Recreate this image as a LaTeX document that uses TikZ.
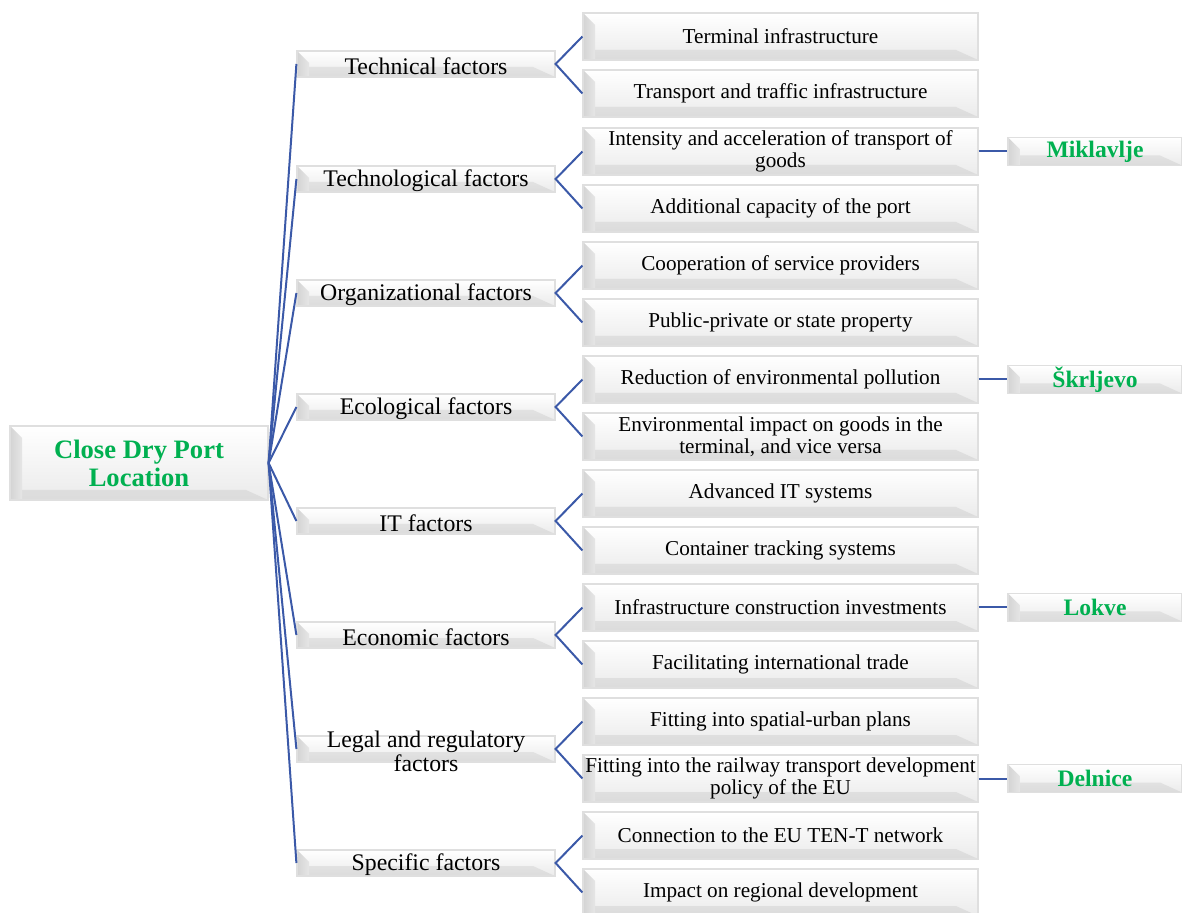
\documentclass[tikz,border=0pt]{standalone}
\usepackage{fontspec}
\setmainfont{Liberation Serif}
\usepackage{xcolor}

\definecolor{linkblue}{RGB}{59,89,168}
\definecolor{portgreen}{RGB}{0,176,80}

\tikzset{
  bevel/.style={top color=white, bottom color=gray!16, draw=gray!25, line width=0.6pt, inner sep=0pt,
    path picture={
      \shade[top color=gray!14, bottom color=gray!28] (path picture bounding box.south east) -- ++(-11pt,5pt) -| (path picture bounding box.south west) -- cycle;
      \shade[left color=gray!34, right color=gray!20] (path picture bounding box.north west) -- ++(6pt,-6pt) |- (path picture bounding box.south west) -- cycle;
      \draw[gray!35, line width=0.8pt] (path picture bounding box.north east) -- (path picture bounding box.south east);
    }},
  rootbox/.style={bevel, minimum width=129pt, minimum height=37pt, align=center,
    text=portgreen, font=\bfseries\fontsize{13.3}{14}\selectfont},
  factor/.style={bevel, minimum width=129pt, minimum height=13pt},
  ftext/.style={align=center, yshift=-1pt, font=\fontsize{11.9}{12}\selectfont},
  leaf/.style={bevel, minimum width=197.5pt, minimum height=23.5pt, align=center,
    font=\fontsize{10.6}{11.2}\selectfont},
  place/.style={bevel, minimum width=87pt, minimum height=14pt,
    text=portgreen, font=\bfseries\fontsize{11.8}{13}\selectfont},
  link/.style={linkblue, line width=1pt}
}

\begin{document}
\begin{tikzpicture}[x=0.5pt, y=-0.5pt]

      \useasboundingbox (0, 0) rectangle (1182, 913);

      \node[rootbox] (root) at (139, 463) {Close Dry Port\\Location};

      % factors
      \node[factor, label={[ftext]center:Technical factors}] (tech) at (426, 64) {};
      \node[factor, label={[ftext]center:Technological factors}] (techno) at (426, 179) {};
      \node[factor, label={[ftext]center:Organizational factors}] (org) at (426, 293) {};
      \node[factor, label={[ftext]center:Ecological factors}] (eco) at (426, 407) {};
      \node[factor, label={[ftext]center:IT factors}] (it) at (426, 521) {};
      \node[factor, label={[ftext]center:Economic factors}] (econ) at (426, 635) {};
      \node[factor, label={[ftext]center:Legal and regulatory\\factors}] (legal) at (426, 749) {};
      \node[factor, label={[ftext]center:Specific factors}] (spec) at (426, 863) {};

      % sub-factors
      \node[leaf] (tech1) at (780.5, 36.5) {Terminal infrastructure};
      \node[leaf] (tech2) at (780.5, 93.5) {Transport and traffic infrastructure};
      \node[leaf] (techno1) at (780.5, 151.5) {Intensity and acceleration of transport of\\goods};
      \node[leaf] (techno2) at (780.5, 208.5) {Additional capacity of the port};
      \node[leaf] (org1) at (780.5, 265.5) {Cooperation of service providers};
      \node[leaf] (org2) at (780.5, 322.5) {Public-private or state property};
      \node[leaf] (eco1) at (780.5, 379.5) {Reduction of environmental pollution};
      \node[leaf] (eco2) at (780.5, 436.5) {Environmental impact on goods in the\\terminal, and vice versa};
      \node[leaf] (it1) at (780.5, 493.5) {Advanced IT systems};
      \node[leaf] (it2) at (780.5, 550.5) {Container tracking systems};
      \node[leaf] (econ1) at (780.5, 607.5) {Infrastructure construction investments};
      \node[leaf] (econ2) at (780.5, 664.5) {Facilitating international trade};
      \node[leaf] (legal1) at (780.5, 721.5) {Fitting into spatial-urban plans};
      \node[leaf] (legal2) at (780.5, 778.5) {Fitting into the railway transport development\\policy of the EU};
      \node[leaf] (spec1) at (780.5, 835.5) {Connection to the EU TEN-T network};
      \node[leaf] (spec2) at (780.5, 892.5) {Impact on regional development};

      % locations
      \node[place] (mik) at (1095, 151.5) {Miklavlje};
      \node[place] (skr) at (1095, 379.5) {Škrljevo};
      \node[place] (lok) at (1095, 607.5) {Lokve};
      \node[place] (del) at (1095, 778.5) {Delnice};

      \draw[link] (root.east) -- (tech.west);
      \draw[link] (root.east) -- (techno.west);
      \draw[link] (root.east) -- (org.west);
      \draw[link] (root.east) -- (eco.west);
      \draw[link] (root.east) -- (it.west);
      \draw[link] (root.east) -- (econ.west);
      \draw[link] (root.east) -- (legal.west);
      \draw[link] (root.east) -- (spec.west);

      \draw[link] (tech1.west) -- (tech.east) -- (tech2.west);
      \draw[link] (techno1.west) -- (techno.east) -- (techno2.west);
      \draw[link] (org1.west) -- (org.east) -- (org2.west);
      \draw[link] (eco1.west) -- (eco.east) -- (eco2.west);
      \draw[link] (it1.west) -- (it.east) -- (it2.west);
      \draw[link] (econ1.west) -- (econ.east) -- (econ2.west);
      \draw[link] (legal1.west) -- (legal.east) -- (legal2.west);
      \draw[link] (spec1.west) -- (spec.east) -- (spec2.west);

      \draw[link] (techno1.east) -- (mik.west);
      \draw[link] (eco1.east) -- (skr.west);
      \draw[link] (econ1.east) -- (lok.west);
      \draw[link] (legal2.east) -- (del.west);

    \end{tikzpicture}
\end{document}
